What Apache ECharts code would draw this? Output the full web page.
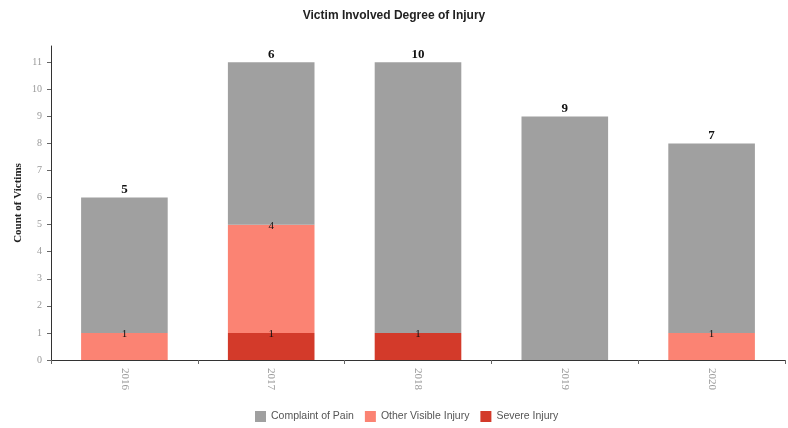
<!DOCTYPE html>
<html><head><meta charset="utf-8">
<script src="https://cdn.jsdelivr.net/npm/echarts@6/dist/echarts.min.js"></script>
<style>html,body{margin:0;padding:0;background:#fff}#c{width:788px;height:428px}</style>
</head><body><div id="c"></div>
<script>
const years = ['2016','2017','2018','2019','2020'];
const severeInjury = [null, 1, 1, null, null];
const otherVisibleInjury = [1, 4, null, null, 1];
const complaintOfPain = [5, 6, 10, 9, 7];
const seriesNames = ['Complaint of Pain','Other Visible Injury','Severe Injury'];

const chart = echarts.init(document.getElementById('c'));
const innerLabel = {show:true, position:'top', distance:-7, color:'#111', fontFamily:'Liberation Serif', fontSize:11};
chart.setOption({
  animation:false,
  title:{text:'Victim Involved Degree of Injury', left:'center', top:5,
    textStyle:{fontSize:12, fontWeight:'bold', color:'#222', fontFamily:'Liberation Sans'}},
  legend:{data:seriesNames, top:406, left:250, itemWidth:11, itemHeight:11, itemGap:11,
    icon:'rect', textStyle:{color:'#555', fontSize:10.5, fontFamily:'Liberation Sans'}},
  grid:{left:51, right:3, top:46, bottom:68},
  xAxis:{type:'category', data:years,
    axisLine:{lineStyle:{color:'#333'}},
    axisTick:{show:true, alignWithLabel:false, length:4, lineStyle:{color:'#666'}},
    axisLabel:{rotate:-90, color:'#999', fontFamily:'Liberation Serif', fontSize:11, margin:8}},
  yAxis:{type:'value', min:0, max:11.6, interval:1,
    name:'Count of Victims', nameLocation:'middle', nameGap:33, nameRotate:90, nameMoveOverlap:false,
    nameTextStyle:{fontFamily:'Liberation Serif', fontWeight:'bold', fontSize:11, color:'#222', verticalAlign:'middle'},
    axisLine:{show:true, lineStyle:{color:'#333'}},
    axisTick:{show:true, length:4, lineStyle:{color:'#666'}},
    splitLine:{show:false},
    axisLabel:{color:'#999', fontFamily:'Liberation Serif', fontSize:10, margin:9, showMaxLabel:false,
      formatter:v=>Number.isInteger(v)?String(v):''}},
  series:[
    {name:'Severe Injury', type:'bar', stack:'a', data:severeInjury, barWidth:'59%',
      itemStyle:{color:'#d33a2a'}, label:innerLabel},
    {name:'Other Visible Injury', type:'bar', stack:'a', data:otherVisibleInjury,
      itemStyle:{color:'#fb8373'}, label:innerLabel},
    {name:'Complaint of Pain', type:'bar', stack:'a', data:complaintOfPain,
      itemStyle:{color:'#a0a0a0'},
      label:{show:true, position:'top', distance:1, color:'#111', fontFamily:'Liberation Serif', fontWeight:'bold', fontSize:13}}
  ]
});
</script></body></html>
